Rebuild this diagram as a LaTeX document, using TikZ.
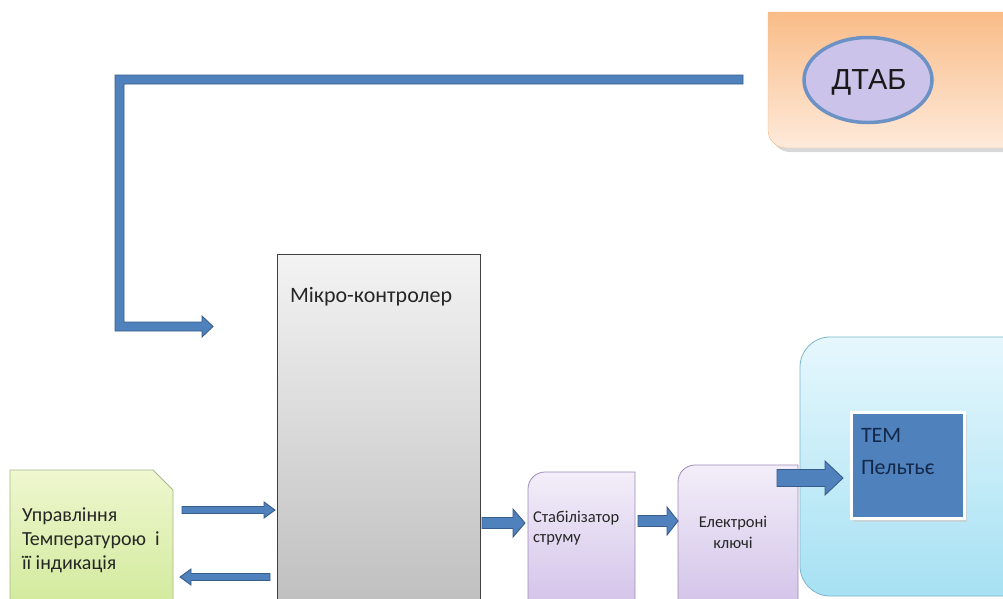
\documentclass[tikz,border=0pt]{standalone}
\usepackage{fontspec}
\setmainfont{Carlito}
\newfontfamily\arialf{Liberation Sans}
\usetikzlibrary{shapes.geometric}
\definecolor{arrowfill}{HTML}{4F81BD}
\definecolor{arrowline}{HTML}{385D8A}
\definecolor{orangetop}{HTML}{F9BC88}
\definecolor{orangebot}{HTML}{FEEADB}
\definecolor{ellfill}{HTML}{CCC3EA}
\definecolor{ellline}{HTML}{6C91C4}
\definecolor{greytop}{HTML}{F3F3F3}
\definecolor{greybot}{HTML}{BFBFBF}
\definecolor{greentop}{HTML}{EEF7CF}
\definecolor{greenbot}{HTML}{D2EA9C}
\definecolor{greenline}{HTML}{A7B98A}
\definecolor{lavtop}{HTML}{F3EEF9}
\definecolor{lavbot}{HTML}{D3C3E9}
\definecolor{lavline}{HTML}{9D8AB8}
\definecolor{cyantop}{HTML}{E6F7FD}
\definecolor{cyanbot}{HTML}{A6E1F3}
\definecolor{cyanline}{HTML}{7DB6C8}
\definecolor{temtext}{HTML}{14294A}
\tikzset{
  arrowsty/.style={fill=arrowfill, draw=arrowline, line width=0.9pt, line join=miter},
  lbl/.style={inner sep=0pt, outer sep=0pt, align=left, text=black!85},
}
\newcommand{\blockarrow}[6]{%
  \pgfmathsetmacro\bdir{ifthenelse(#2>#1,1,-1)}%
  \pgfmathsetmacro\hx{#2-\bdir*#6}%
  \filldraw[arrowsty] (#1,#3-#4) -- (\hx,#3-#4) -- (\hx,#3-#5) -- (#2,#3) -- (\hx,#3+#5) -- (\hx,#3+#4) -- (#1,#3+#4) -- cycle;}
\begin{document}
\begin{tikzpicture}[x=1pt,y=-1pt]
\useasboundingbox[fill=white] (0,0) rectangle (1003,598);

% --- DTAB block (orange) ---
\fill[black!25, opacity=0.6] (772,16) -- (1010,16) -- (1010,152) -- (790,152) .. controls (780.1,152) and (772,143.9) .. (772,134) -- cycle;
\path[top color=orangetop, bottom color=orangebot, draw=orange!45!brown!55]
  (768,12) -- (1010,12) -- (1010,148) -- (786,148) .. controls (776.1,148) and (768,139.9) .. (768,130) -- cycle;
\node[ellipse, fill=ellfill, draw=ellline, line width=3.5pt, minimum width=128pt, minimum height=85pt, inner sep=0pt] (dtab) at (868,80) {};
\node[lbl, font=\arialf\fontsize{29}{32}\selectfont, text=black!90] (dtabt) at (869,82) {ДТАБ};

% --- L-shaped feedback arrow ---
\filldraw[arrowsty] (743,75) -- (115,75) -- (115,331) -- (202,331) -- (202,337) -- (213,326.5) -- (202,316) -- (202,322) -- (124,322) -- (124,84) -- (743,84) -- cycle;

% --- microcontroller ---
\path[top color=greytop, bottom color=greybot, draw=black!75, line width=0.8pt] (277,254) rectangle (480,606);
\node[lbl, anchor=base west, font=\fontsize{22}{26}\selectfont] (mcu) at (290,302) {Мікро-контролер};

% --- control & indication (green) ---
\path[top color=greentop, bottom color=greenbot, draw=greenline, line width=0.8pt]
  (10,470) -- (153,470) -- (173,490) -- (173,606) -- (10,606) -- cycle;
\node[lbl, anchor=base west, font=\fontsize{20}{24}\selectfont] (ctl1) at (22,521) {Управління};
\node[lbl, anchor=base west, font=\fontsize{20}{24}\selectfont] (ctl2) at (22,545) {Температурою\ \ і};
\node[lbl, anchor=base west, font=\fontsize{20}{24}\selectfont] (ctl3) at (22,569) {її індикація};

% --- current stabilizer ---
\path[top color=lavtop, bottom color=lavbot, draw=lavline, line width=0.8pt]
  (528,489) .. controls (528,479.6) and (535.6,472) .. (545,472) -- (635,472) -- (635,606) -- (528,606) -- cycle;
\node[lbl, anchor=base west, font=\fontsize{16.5}{20}\selectfont] (stab1) at (533,522) {Стабілізатор};
\node[lbl, anchor=base west, font=\fontsize{16.5}{20}\selectfont] (stab2) at (533,542) {струму};

% --- electronic keys ---
\path[top color=lavtop, bottom color=lavbot, draw=lavline, line width=0.8pt]
  (678,482) .. controls (678,472.6) and (685.6,465) .. (695,465) -- (798,465) -- (798,606) -- (678,606) -- cycle;
\node[lbl, anchor=base, font=\fontsize{16.5}{20}\selectfont] (key1) at (733,527) {Електроні};
\node[lbl, anchor=base, font=\fontsize{16.5}{20}\selectfont] (key2) at (733,548) {ключі};

% --- Peltier block (light blue) ---
\path[top color=cyantop, bottom color=cyanbot, draw=cyanline, line width=0.8pt, rounded corners=30pt]
  (800,337) rectangle (1040,596);
\fill[black!20, opacity=0.7] (854,415) rectangle (967,522);
\filldraw[fill=arrowfill, draw=white, line width=3pt] (851,412) rectangle (964,518);
\node[lbl, anchor=base west, font=\fontsize{22}{26}\selectfont, text=temtext] (tem1) at (861,442) {ТЕМ};
\node[lbl, anchor=base west, font=\fontsize{22}{26}\selectfont, text=temtext] (tem2) at (861,474) {Пельтьє};

% --- block arrows ---
\blockarrow{182}{275}{510}{3.5}{8}{11}
\blockarrow{270}{180}{577}{3.5}{8}{11}
\blockarrow{482}{525}{523}{5.5}{14}{12}
\blockarrow{638}{678}{521}{5.5}{14}{11}
\blockarrow{777}{843}{478}{8.5}{17}{18}
\end{tikzpicture}
\end{document}
